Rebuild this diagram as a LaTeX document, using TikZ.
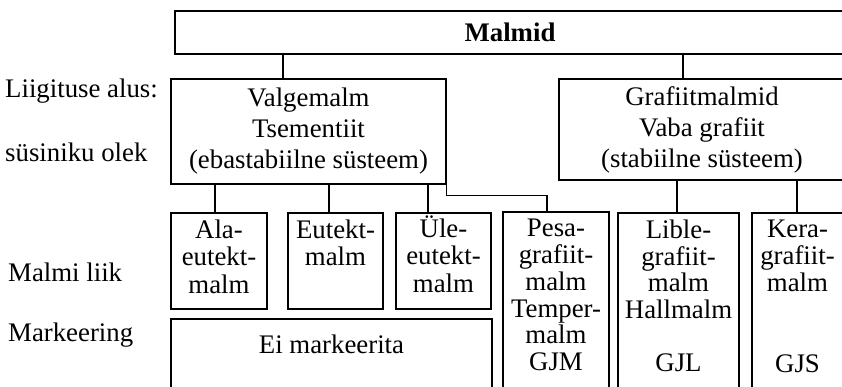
\documentclass[tikz,border=0pt]{standalone}
\usepackage{fontspec}
\setmainfont{Liberation Serif}
\pgfdeclarelayer{edgelayer}
\pgfdeclarelayer{nodelayer}
\pgfsetlayers{edgelayer,nodelayer,main}
\tikzstyle{box}=[rectangle,draw=black,line width=1.2pt,inner sep=0pt]
\tikzstyle{bigtext}=[font=\fontsize{26.8}{31}\selectfont,align=center]
\tikzstyle{boxtext}=[font=\fontsize{26.8}{27.5}\selectfont,align=center,anchor=north,inner sep=0pt]
\tikzstyle{talltext}=[font=\fontsize{26.8}{26.8}\selectfont,align=center,anchor=north,inner sep=0pt]
\tikzstyle{caption}=[font=\fontsize{26.8}{31}\selectfont,anchor=base west,inner sep=0pt]
\tikzstyle{link}=[draw=black,line width=1.2pt]

\begin{document}
\begin{tikzpicture}[x=1pt,y=-1pt]
	\useasboundingbox (0,0) rectangle (842,386);
	\begin{pgfonlayer}{nodelayer}
		\node [style=box, style=bigtext, minimum width=670, minimum height=43] (0) at (510, 32.5) {\textbf{Malmid}};
		\node [style=box, style=bigtext, minimum width=275, minimum height=105] (1) at (308.5, 131.5) {Valgemalm\\Tsementiit\\(ebastabiilne süsteem)};
		\node [style=box, style=bigtext, minimum width=286, minimum height=101] (2) at (702, 129.5) {Grafiitmalmid\\Vaba grafiit\\(stabiilne süsteem)};
		\node [style=box, minimum width=96, minimum height=96] (3) at (219, 261) {};
		\node [style=box, minimum width=95, minimum height=96] (4) at (335.5, 261) {};
		\node [style=box, minimum width=95, minimum height=96] (5) at (443.5, 261) {};
		\node [style=box, minimum width=321, minimum height=90] (6) at (331.5, 364) {};
		\node [style=box, minimum width=106, minimum height=200] (7) at (556, 312) {};
		\node [style=box, minimum width=121, minimum height=200] (8) at (678.5, 313) {};
		\node [style=box, minimum width=91, minimum height=200] (9) at (797.5, 313) {};
		\node [style=boxtext] (3t) at ([yshift=-7pt]3.north) {Ala-\\eutekt-\\malm};
		\node [style=boxtext] (4t) at ([yshift=-7pt]4.north) {Eutekt-\\malm};
		\node [style=boxtext] (5t) at ([yshift=-3pt]5.north) {Üle-\\eutekt-\\malm};
		\node [style=boxtext] (6t) at ([yshift=-16pt]6.north) {Ei markeerita};
		\node [style=talltext] (7t) at ([yshift=-7.5pt]7.north) {Pesa-\\grafiit-\\malm\\Temper-\\malm\\GJM};
		\node [style=talltext] (8t) at ([yshift=-7pt]8.north) {Lible-\\grafiit-\\malm\\Hallmalm\\[26pt]GJL};
		\node [style=talltext] (9t) at ([yshift=-7.5pt]9.north) {Kera-\\grafiit-\\malm\\[54pt]GJS};
		\node [style=caption] (10) at (5, 97) {Liigituse alus:};
		\node [style=caption] (11) at (5, 161) {süsiniku olek};
		\node [style=caption] (12) at (8, 281) {Malmi liik};
		\node [style=caption] (13) at (8, 341) {Markeering};
	\end{pgfonlayer}
	\begin{pgfonlayer}{edgelayer}
		\draw [style=link] (283,0 |- 0.south) to (283,0 |- 1.north);
		\draw [style=link] (683,0 |- 0.south) to (683,0 |- 2.north);
		\draw [style=link] (215,0 |- 1.south) to (215,0 |- 3.north);
		\draw [style=link] (329,0 |- 1.south) to (329,0 |- 4.north);
		\draw [style=link] (428,0 |- 1.south) to (428,0 |- 5.north);
		\draw [style=link] (1.south east) -- ++(0,11) -| (547,0 |- 7.north);
		\draw [style=link] (677,0 |- 2.south) to (677,0 |- 8.north);
		\draw [style=link] (797,0 |- 2.south) to (797,0 |- 9.north);
	\end{pgfonlayer}
\end{tikzpicture}
\end{document}
